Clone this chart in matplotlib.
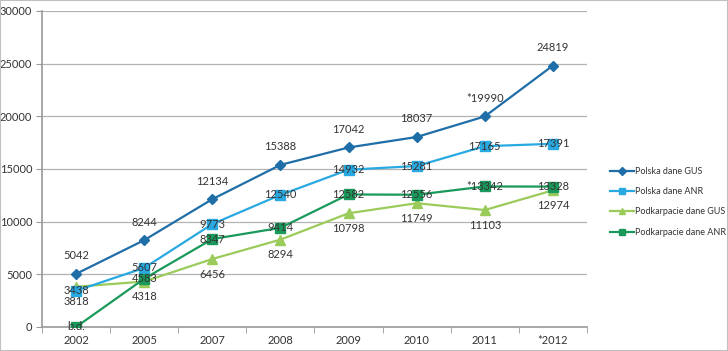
import numpy as np
import matplotlib
matplotlib.use('Agg')
import matplotlib.pyplot as plt
from matplotlib.patches import Rectangle

plt.rcParams['font.family'] = ['Lato', 'DejaVu Sans']

# Dane
lata = ['2002', '2005', '2007', '2008', '2009', '2010', '2011', '*2012']
polska_gus = [5042, 8244, 12134, 15388, 17042, 18037, 19990, 24819]
polska_anr = [3438, 5607, 9773, 12540, 14932, 15281, 17165, 17391]
podk_gus = [3818, 4318, 6456, 8294, 10798, 11749, 11103, 12974]
podk_anr = [0, 4583, 8347, 9414, 12582, 12556, 13342, 13328]

etykiety_polska_gus = ['5042', '8244', '12134', '15388', '17042', '18037', '*19990', '24819']
etykiety_polska_anr = ['3438', '5607', '9773', '12540', '14932', '15281', '17165', '17391']
etykiety_podk_gus = ['3818', '4318', '6456', '8294', '10798', '11749', '11103', '12974']
etykiety_podk_anr = ['b.d.', '4583', '8347', '9414', '12582', '12556', '*13342', '13328']

c_pgus = '#1f6ea8'
c_panr = '#29a9e1'
c_kgus = '#9bcb5a'
c_kanr = '#1a9a5a'

fig = plt.figure(figsize=(7.28, 3.51), dpi=100)
ax = fig.add_axes([0.0577, 0.0684, 0.7486, 0.9003])

x = np.arange(len(lata))

ax.plot(x, polska_gus, color=c_pgus, lw=1.6, marker='D', ms=5, label='Polska dane GUS', zorder=4)
ax.plot(x, polska_anr, color=c_panr, lw=1.6, marker='s', ms=6.5, label='Polska dane ANR', zorder=3)
ax.plot(x, podk_gus, color=c_kgus, lw=1.6, marker='^', ms=6.5, label='Podkarpacie dane GUS', zorder=2)
ax.plot(x, podk_anr, color=c_kanr, lw=1.6, marker='s', ms=6.5, label='Podkarpacie dane ANR', zorder=3)

fs = 8
tc = '#333333'
for xi, v, t in zip(x, polska_gus, etykiety_polska_gus):
    ax.annotate(t, (xi, v), xytext=(0, 9), textcoords='offset points',
                ha='center', va='bottom', fontsize=fs, color=tc, zorder=6)
for xi, v, t in zip(x, polska_anr, etykiety_polska_anr):
    ax.annotate(t, (xi, v), xytext=(0, 0), textcoords='offset points',
                ha='center', va='center', fontsize=fs, color=tc, zorder=6)
for xi, v, t in zip(x, podk_gus, etykiety_podk_gus):
    ax.annotate(t, (xi, v), xytext=(0, -7), textcoords='offset points',
                ha='center', va='top', fontsize=fs, color=tc, zorder=6)
for xi, v, t in zip(x, podk_anr, etykiety_podk_anr):
    ax.annotate(t, (xi, v), xytext=(0, 0), textcoords='offset points',
                ha='center', va='center', fontsize=fs, color=tc, zorder=6)

ax.set_xlim(-0.5, len(lata) - 0.5)
ax.set_ylim(0, 30000)
ax.set_yticks(np.arange(0, 30001, 5000))
ax.set_xticks(x)
ax.set_xticklabels(lata)
ax.set_xticks(np.arange(-0.5, len(lata), 1), minor=True)
ax.tick_params(axis='x', which='major', length=0, labelsize=fs, colors=tc, pad=6)
ax.tick_params(axis='x', which='minor', length=4, color='#999999')
ax.tick_params(axis='y', length=4, color='#999999', labelsize=fs, labelcolor=tc, pad=3)

ax.grid(axis='y', color='#b3b3b3', lw=0.9)
ax.set_axisbelow(True)
for s in ['top', 'right']:
    ax.spines[s].set_visible(False)
ax.spines['left'].set_color('#999999')
ax.spines['bottom'].set_color('#999999')
ax.spines['left'].set_linewidth(1.2)
ax.spines['bottom'].set_linewidth(1.2)

fig.legend(*ax.get_legend_handles_labels(), loc='center left',
           bbox_to_anchor=(0.838, 0.425), frameon=False, borderpad=0,
           borderaxespad=0, fontsize=6.5, handlelength=2.6, handletextpad=0.15,
           labelspacing=1.25, labelcolor=tc, markerscale=0.75)

fig.patches.append(Rectangle((0, 0), 1, 1, transform=fig.transFigure,
                             fill=False, edgecolor='#bfbfbf', lw=1.5))

fig.savefig('out.png', dpi=100)
